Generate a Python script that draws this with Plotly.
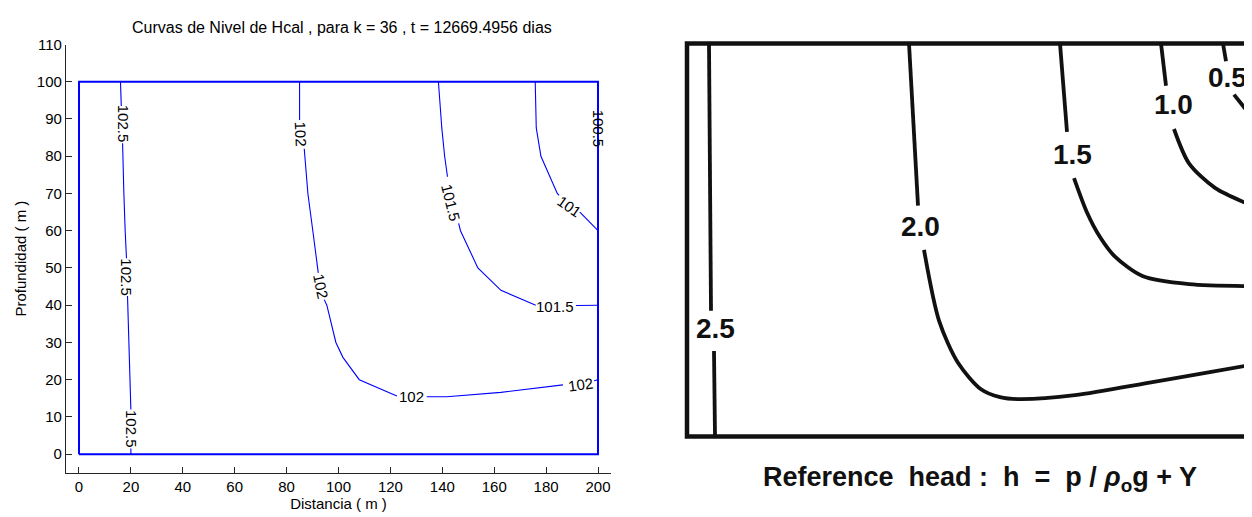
import plotly.graph_objects as go

# The page has an 8 px body margin: the figure is sized and placed so that
# reference pixel (px, py) lands at figure pixel (px - 8, py - 8).
OFF = 8
W, H = 1252 - OFF, 517 - OFF
BLUE = "#0000FF"
FONT = "Liberation Sans, Arial, sans-serif"


def fx(px):
    return (px - OFF) / W


def fy(py):
    return 1 - (py - OFF) / H


# ---------------- Left panel: MATLAB contour lines (x = Distancia m, y = Profundidad m) ----------------
box_x = [0, 200, 200, 0, 0]
box_y = [0, 0, 100, 100, 0]

c1025_x = [16, 16.3, None, 16.8, 17, 17.3, 17.8, 18.3, None, 18.7, 18.8, 19.3, 19.7, 20, None, 20, 20]
c1025_y = [100, 93.5, None, 83.5, 80, 70, 60, 52.6, None, 42.5, 40, 30, 20, 12, None, 1.5, 0]

c102_x = [85, 85, None, 86.8, 87, 88.2, 90.1, 92, 92.2, None, 94.5, 95.5, 99, 101.7, 108, 121.5, 122.5,
          None, 134, 141.7, 162.6, 186.5, None, 198.5, 200]
c102_y = [100, 89.7, None, 82, 80, 70, 60, 50, 48.7, None, 41.5, 40, 30, 26, 20, 15.7, 15.6,
          None, 15.4, 15.4, 16.6, 18.6, None, 19.7, 20]

c1015_x = [138.5, 139.8, 140.9, 142, None, 146.3, 147, 153.7, 162.6, 176, None, 191.5, 200]
c1015_y = [100, 87.6, 80, 74.5, None, 62, 60, 50, 44, 40, None, 39.9, 40]

c101_x = [175.8, 176.2, 178, 184.3, 185, None, 193, 200]
c101_y = [100, 87.6, 80, 70, 69.5, None, 65, 60]

c1005_x = [200, 200, None, 200, 200]
c1005_y = [100, 93, None, 82, 78]

left_labels = ["102.5", "102.5", "102.5", "102", "102", "102", "102", "101.5", "101.5", "101", "100.5"]
left_label_x = [17, 18.5, 20, 85.3, 93.2, 128.3, 193.3, 143.5, 183.5, 189, 200]
left_label_y = [88.7, 47.5, 6.8, 86, 45, 15.6, 18.8, 67.4, 39.6, 66.6, 87.4]
left_label_ang = [90, 90, 90, 88, 78, 0, -8, 76, 0, 35, 90]

x_ticks = list(range(0, 201, 20))
y_ticks = list(range(0, 111, 10))

# ---------------- Right panel: scanned reference figure (X, Y in figure units) ----------------
frame_x = [141.25, 0, 0, 141.25]
frame_y = [100, 100, 0, 0]

r25_x = [5.5, 6, None, 6.75, 7]
r25_y = [100, 32, None, 21.75, 0]
r20_x = [55.5, 57.75, None, 59.25, 63, 67.75, 73.5, 78.25, 83, 97, 116, 130, 141.25]
r20_y = [100, 58.75, None, 47.5, 29.5, 18.75, 12, 10, 9.5, 10.5, 13.75, 16.25, 18.25]
r15_x = [93.25, 95, None, 96.75, 100, 103.25, 107, 114, 125.5, 141.25]
r15_y = [100, 77.5, None, 65.75, 57, 50.75, 45.75, 40.75, 38.75, 38.25]
r10_x = [118.5, 119.75, None, 121.75, 125.5, 132, 141.25]
r10_y = [100, 89.25, None, 78.25, 69.5, 63.25, 58.75]
r05_x = [134, 134.75, None, 136.75, 141.25]
r05_y = [100, 95.5, None, 87, 81.25]

right_labels = ["2.5", "2.0", "1.5", "1.0", "0.5"]
right_label_x = [7, 58.25, 96.25, 121.5, 135]
right_label_y = [27.5, 53.5, 71.75, 84.5, 91.25]

caption = "Reference  head :  h  =  p / <i>ρ</i><sub>o</sub>g + Y"

fig = go.Figure()

# left panel traces
for xs, ys in [(c1025_x, c1025_y), (c102_x, c102_y), (c1015_x, c1015_y), (c101_x, c101_y), (c1005_x, c1005_y)]:
    fig.add_trace(go.Scatter(x=xs, y=ys, mode="lines", line=dict(color=BLUE, width=1.1),
                             connectgaps=False, showlegend=False, hoverinfo="skip", xaxis="x", yaxis="y"))
fig.add_trace(go.Scatter(x=box_x, y=box_y, mode="lines", line=dict(color=BLUE, width=2),
                         showlegend=False, hoverinfo="skip", xaxis="x", yaxis="y"))

for t, x, y, a in zip(left_labels, left_label_x, left_label_y, left_label_ang):
    fig.add_annotation(x=x, y=y, xref="x", yref="y", text=t, showarrow=False, textangle=a,
                       xanchor="center", yanchor="middle",
                       font=dict(family=FONT, size=15, color="black"))

# right panel traces
fig.add_trace(go.Scatter(x=frame_x, y=frame_y, mode="lines", line=dict(color="#111111", width=4.5),
                         showlegend=False, hoverinfo="skip", xaxis="x2", yaxis="y2", cliponaxis=False))
for xs, ys in [(r25_x, r25_y), (r20_x, r20_y), (r15_x, r15_y), (r10_x, r10_y), (r05_x, r05_y)]:
    fig.add_trace(go.Scatter(x=xs, y=ys, mode="lines", line=dict(color="#111111", width=3.8, shape="spline",
                                                                 smoothing=0.8),
                             connectgaps=False, showlegend=False, hoverinfo="skip", xaxis="x2", yaxis="y2"))

for t, x, y in zip(right_labels, right_label_x, right_label_y):
    fig.add_annotation(x=x, y=y, xref="x2", yref="y2", text="<b>" + t + "</b>", showarrow=False,
                       xanchor="center", yanchor="middle",
                       font=dict(family=FONT, size=28, color="#111111"))

fig.add_annotation(x=fx(980), y=fy(478), xref="paper", yref="paper", text="<b>" + caption + "</b>",
                   showarrow=False, xanchor="center", yanchor="middle",
                   font=dict(family=FONT, size=27, color="#111111"))

# title
fig.add_annotation(x=fx(342), y=fy(19), xref="paper", yref="paper",
                   text="Curvas de Nivel de Hcal , para k = 36 , t = 12669.4956 dias",
                   showarrow=False, xanchor="center", yanchor="middle",
                   font=dict(family=FONT, size=16, color="black"))

axis_common = dict(showgrid=False, zeroline=False, showline=True, linecolor="#262626", linewidth=1.2,
                   ticks="inside", ticklen=6, tickcolor="#262626", tickwidth=1.2,
                   tickfont=dict(family=FONT, size=15, color="black"))

fig.update_layout(
    width=W, height=H,
    margin=dict(l=0, r=0, t=0, b=0),
    paper_bgcolor="white", plot_bgcolor="white",
    showlegend=False,
    xaxis=dict(domain=[fx(66), fx(611)], range=[-5, 205], tickvals=x_ticks, anchor="y",
               title=dict(text="Distancia ( m )", font=dict(family=FONT, size=15, color="black"), standoff=4),
               **axis_common),
    yaxis=dict(domain=[fy(472), fy(36)], range=[-5, 110], tickvals=y_ticks, anchor="x",
               title=dict(text="Profundidad ( m )", font=dict(family=FONT, size=15, color="black"), standoff=6),
               **axis_common),
    xaxis2=dict(domain=[fx(681), 1.0], range=[-1.5, 141.25], visible=False, anchor="y2"),
    yaxis2=dict(domain=[fy(441), fy(29)], range=[-1.5, 101.5], visible=False, anchor="x2"),
)

fig.write_html("out.html")
